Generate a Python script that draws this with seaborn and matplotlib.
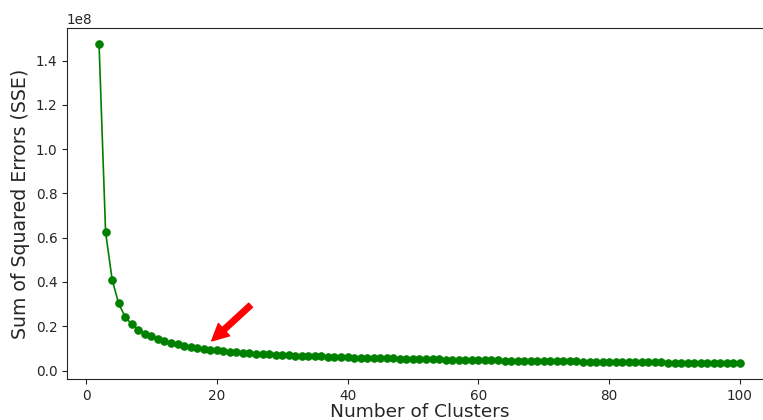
import numpy as np
import matplotlib
matplotlib.use("Agg")
import matplotlib.pyplot as plt
import seaborn as sns

# =========================
# DATA
# =========================
n_clusters = list(range(2, 101))

sse_e8 = [
    1.475, 0.625, 0.411, 0.303, 0.242, 0.209, 0.185, 0.167, 0.154,   # 2-10
    0.143, 0.134, 0.126, 0.119, 0.113, 0.108, 0.104, 0.099, 0.095, 0.092,  # 11-20
    0.089, 0.086, 0.083, 0.080, 0.078, 0.077, 0.075, 0.074, 0.072, 0.071,  # 21-30
    0.069, 0.068, 0.067, 0.066, 0.065, 0.064, 0.063, 0.062, 0.061, 0.060,  # 31-40
    0.059, 0.058, 0.058, 0.057, 0.056, 0.056, 0.055, 0.054, 0.054, 0.053,  # 41-50
    0.052, 0.052, 0.051, 0.051, 0.050, 0.049, 0.049, 0.048, 0.048, 0.047,  # 51-60
    0.047, 0.046, 0.046, 0.045, 0.045, 0.044, 0.044, 0.043, 0.043, 0.042,  # 61-70
    0.042, 0.042, 0.041, 0.041, 0.041, 0.040, 0.040, 0.040, 0.039, 0.039,  # 71-80
    0.039, 0.038, 0.038, 0.038, 0.037, 0.037, 0.037, 0.037, 0.036, 0.036,  # 81-90
    0.036, 0.036, 0.035, 0.035, 0.035, 0.035, 0.035, 0.034, 0.034, 0.034,  # 91-100
]
sse = np.array(sse_e8) * 1e8

# elbow pointer
arrow_xy = (18.9, 0.125e8)
arrow_text_xy = (25.5, 0.304e8)

# =========================
# PLOT
# =========================
sns.set_style("ticks")
plt.rcParams["font.family"] = ["DejaVu Sans"]

fig = plt.figure(figsize=(7.63, 4.2), dpi=100)
ax = fig.add_axes([67 / 763, 1 - 379 / 420, (772 - 67) / 763, (379 - 28) / 420])

sns.lineplot(x=n_clusters, y=sse, ax=ax, color="green", marker="o",
             markersize=5.4, markeredgecolor="green", linewidth=1.2)

ax.annotate("", xy=arrow_xy, xytext=arrow_text_xy,
            arrowprops=dict(facecolor="red", edgecolor="red", shrink=0.05))

ax.set_xlabel("Number of Clusters", fontsize=13.3, labelpad=0.3)
ax.set_ylabel("Sum of Squared Errors (SSE)", fontsize=13.6)
ax.tick_params(labelsize=9.8, length=3.5, width=0.8)
ax.yaxis.get_offset_text().set_fontsize(9.8)

fig.savefig("out.png", dpi=100)
